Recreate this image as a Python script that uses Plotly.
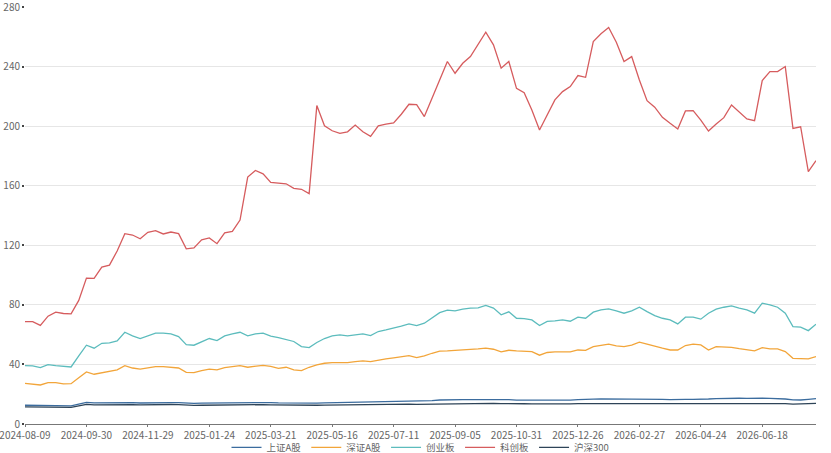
import pandas as pd
import plotly.graph_objects as go

# weekly closing dates (last trading day of each week)
fridays = pd.date_range('2024-08-09', '2026-08-07', freq='W-FRI').strftime('%Y-%m-%d').tolist()
holiday_moves = {'2024-10-04': '2024-09-30', '2025-01-31': '2025-01-27', '2025-04-04': '2025-04-03',
                 '2025-05-02': '2025-04-30', '2025-10-03': '2025-09-30', '2026-05-01': '2026-04-30',
                 '2026-06-19': '2026-06-18'}
no_trading = ['2026-02-20']
dates = [holiday_moves.get(d, d) for d in fridays if d not in no_trading]

tick_labels = ['2024-08-09', '2024-09-30', '2024-11-29', '2025-01-24', '2025-03-21', '2025-05-16',
               '2025-07-11', '2025-09-05', '2025-10-31', '2025-12-26', '2026-02-27', '2026-04-24',
               '2026-06-18']

sh_a = [12.6, 12.6, 12.5, 12.4, 12.3, 12.2, 12.2, 13.4, 14.5, 14.2, 14.3, 14.3, 14.1, 14.7, 14.3, 14.1,
        14.3, 14.5, 14.5, 14.4, 14.4, 13.9, 13.8, 14.0, 14.1, 14.0, 14.2, 14.3, 14.4, 14.3, 14.4, 14.5,
        14.4, 14.2, 14.1, 14.0, 13.8, 13.8, 14.0, 14.2, 14.3, 14.3, 14.3, 14.4, 14.5, 14.4, 14.7, 14.8,
        14.9, 15.1, 15.3, 15.2, 15.4, 15.7, 16.1, 16.3, 16.2, 16.3, 16.4, 16.4, 16.6, 16.5, 16.2, 16.3,
        16.0, 16.0, 15.9, 15.7, 15.9, 16.0, 16.1, 16.0, 16.3, 16.3, 16.7, 16.9, 16.9, 16.8, 16.7, 16.8,
        17.0, 16.8, 16.6, 16.5, 16.4, 16.2, 16.5, 16.5, 16.5, 16.8, 17.1, 17.3, 17.4, 17.3, 17.2, 17.0,
        17.3, 17.2, 17.1, 16.8, 16.2, 16.1, 16.6, 17.1]

sz_a = [27.3, 26.9, 26.2, 27.8, 27.8, 26.9, 27.1, 31.1, 35.0, 33.4, 34.5, 35.4, 36.3, 39.2, 37.6, 36.8,
        37.4, 38.5, 38.5, 38.1, 37.6, 34.7, 34.5, 35.9, 36.8, 36.3, 37.9, 38.5, 39.2, 38.1, 39.0, 39.4,
        38.7, 37.4, 38.1, 36.3, 35.9, 38.1, 39.7, 40.8, 41.2, 41.2, 41.2, 41.9, 42.4, 41.9, 43.0, 43.7,
        44.4, 45.3, 45.9, 44.6, 45.7, 47.5, 48.9, 49.1, 49.3, 50.0, 50.2, 50.4, 50.9, 50.2, 48.4, 49.5,
        49.1, 49.1, 48.6, 46.2, 48.0, 48.4, 48.4, 48.4, 49.7, 49.5, 52.0, 52.9, 53.6, 52.4, 52.0, 52.9,
        54.9, 53.6, 52.5, 50.9, 49.7, 49.7, 52.7, 53.6, 53.1, 49.7, 52.0, 52.0, 51.5, 50.6, 49.7, 49.1,
        51.3, 50.4, 50.4, 48.6, 44.1, 43.7, 43.7, 45.3]

cyb = [39.2, 39.0, 37.9, 39.9, 39.2, 38.5, 38.3, 45.7, 52.9, 50.9, 54.2, 54.5, 55.8, 61.6, 59.2, 57.4,
       59.2, 61.0, 61.0, 60.5, 58.7, 53.3, 52.9, 55.4, 57.4, 56.0, 59.2, 60.5, 61.6, 59.2, 60.5, 61.0,
       59.0, 58.0, 56.9, 55.4, 52.0, 51.3, 54.7, 57.4, 59.2, 59.8, 59.2, 59.8, 60.5, 59.4, 62.1, 63.2,
       64.3, 65.7, 67.2, 66.1, 67.7, 71.0, 74.8, 76.4, 76.0, 77.1, 77.8, 78.0, 79.6, 77.8, 73.3, 75.3,
       71.0, 70.8, 69.9, 66.1, 68.9, 69.2, 69.9, 69.0, 71.7, 71.0, 75.1, 76.6, 77.3, 76.0, 74.4, 76.0,
       78.4, 75.5, 72.8, 71.0, 69.9, 67.2, 71.7, 71.7, 70.4, 74.4, 77.1, 78.4, 79.3, 77.8, 76.6, 74.4,
       81.1, 80.0, 78.4, 74.4, 65.4, 65.0, 62.7, 67.0]

kcb = [68.7, 68.7, 66.2, 72.4, 75.1, 74.2, 74.0, 83.0, 98.0, 97.8, 105.3, 106.7, 116.2, 127.8, 126.9,
       124.4, 128.7, 129.8, 127.6, 128.9, 127.8, 117.6, 118.2, 123.6, 124.9, 121.1, 128.4, 129.3, 136.9,
       165.8, 170.2, 168.0, 162.2, 161.6, 161.3, 158.2, 157.6, 154.7, 213.8, 200.2, 196.9, 195.1, 196.2,
       200.7, 196.2, 193.1, 200.2, 201.3, 202.2, 208.0, 214.7, 214.5, 206.4, 218.7, 231.0, 243.4, 235.5,
       242.2, 246.7, 255.0, 263.1, 254.6, 238.9, 243.4, 225.4, 222.5, 210.9, 197.4, 207.5, 217.6, 223.2,
       226.6, 234.0, 232.8, 256.8, 262.0, 266.2, 256.4, 243.4, 246.7, 231.0, 217.1, 212.7, 205.9, 201.9,
       198.1, 210.2, 210.4, 204.1, 196.7, 201.4, 205.7, 214.2, 209.7, 204.8, 203.7, 230.6, 236.6, 236.6,
       240.0, 198.5, 199.6, 169.4, 176.8]

hs300 = [11.5, 11.5, 11.4, 11.3, 11.2, 11.1, 11.1, 12.2, 13.2, 12.9, 13.0, 13.0, 12.8, 13.3, 13.0, 12.8,
         13.0, 13.1, 13.1, 13.1, 13.0, 12.6, 12.5, 12.6, 12.7, 12.6, 12.8, 12.9, 13.0, 12.9, 13.0, 13.0,
         12.9, 12.8, 12.7, 12.6, 12.4, 12.4, 12.6, 12.7, 12.8, 12.8, 12.8, 12.9, 12.9, 12.8, 13.0, 13.1,
         13.1, 13.2, 13.3, 13.2, 13.3, 13.5, 13.7, 13.8, 13.8, 13.8, 13.9, 13.9, 14.0, 13.9, 13.7, 13.8,
         13.6, 13.6, 13.5, 13.4, 13.5, 13.5, 13.6, 13.5, 13.7, 13.7, 13.9, 14.0, 14.0, 13.9, 13.9, 13.9,
         14.0, 13.9, 13.8, 13.7, 13.6, 13.5, 13.7, 13.7, 13.6, 13.8, 13.9, 14.0, 14.0, 13.9, 13.9, 13.8,
         13.9, 13.9, 13.8, 13.7, 13.3, 13.3, 13.6, 13.8]

series = [('上证A股', sh_a, '#3b6c9e'),
          ('深证A股', sz_a, '#f2a53a'),
          ('创业板', cyb, '#5cbcbd'),
          ('科创板', kcb, '#d65c5e'),
          ('沪深300', hs300, '#2e4458')]

fig = go.Figure()
for name, vals, color in series:
    fig.add_trace(go.Scatter(x=dates, y=vals, name=name, mode='lines',
                             line=dict(color=color, width=1.3)))

fig.update_layout(
    width=831, height=453,
    margin=dict(l=25, r=15, t=7, b=29, autoexpand=False),
    paper_bgcolor='white', plot_bgcolor='white',
    font=dict(family='Noto Sans CJK SC, Noto Sans, sans-serif', size=10, color='#666'),
    showlegend=True,
    legend=dict(orientation='h', x=0.5, xanchor='center', y=-0.056, yanchor='middle',
                bgcolor='rgba(0,0,0,0)', font=dict(size=9.5, color='#666'),
                itemwidth=30, tracegroupgap=0),
    hovermode='x unified',
)
fig.update_xaxes(type='category', range=[0, len(dates) - 1], tickmode='array',
                 tickvals=tick_labels, ticktext=tick_labels, tickangle=0,
                 showgrid=False, showline=True, linecolor='#777', linewidth=1,
                 ticks='outside', ticklen=2, tickcolor='#777', zeroline=False)
fig.update_yaxes(range=[0, 280], tickvals=list(range(0, 281, 40)), ticklabeloverflow='allow',
                 showgrid=True, gridcolor='#e6e6e6', gridwidth=1, showline=False,
                 ticks='outside', ticklen=2, tickwidth=2, tickcolor='#444', zeroline=False)

fig.write_html('out.html', config={'displayModeBar': False},
               post_script="document.body.style.margin='0';")
